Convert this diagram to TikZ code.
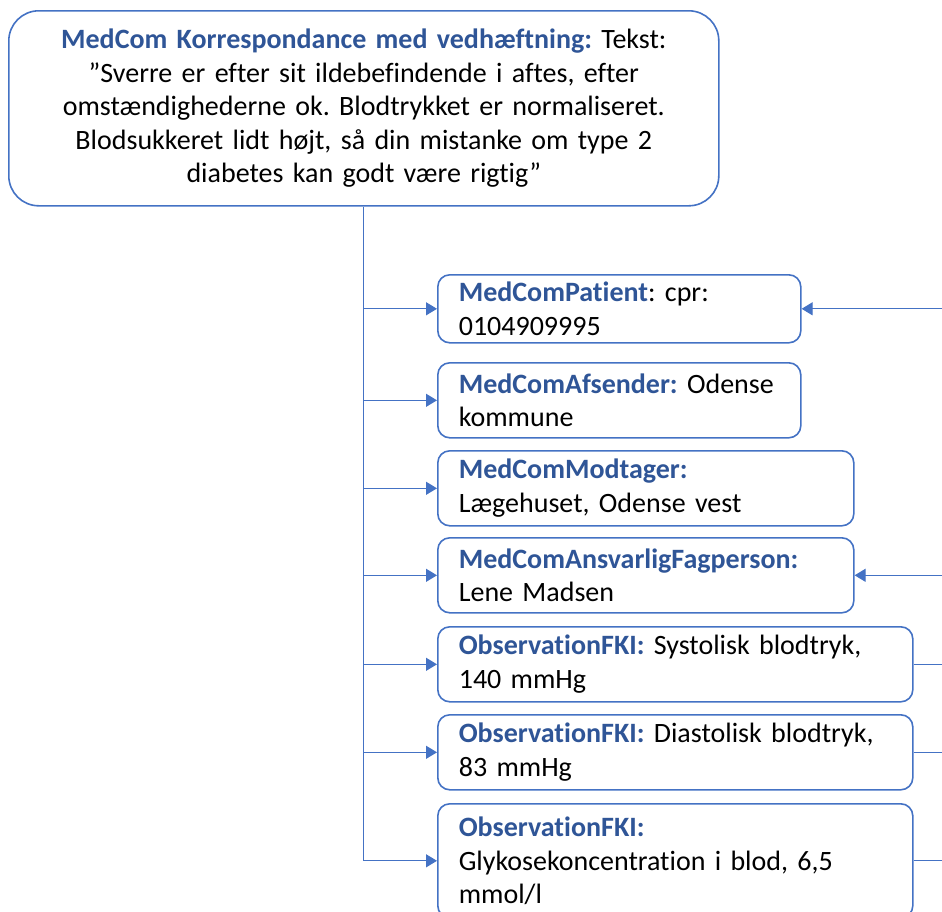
\documentclass[tikz,border=0pt]{standalone}
\usepackage{fontspec}
\setmainfont{Carlito}[Ligatures=NoCommon]
\usetikzlibrary{arrows.meta}
\definecolor{mcblue}{HTML}{4472C4}
\definecolor{mcdark}{HTML}{2F5597}
\newcommand{\rt}[1]{\textbf{\color{mcdark}#1}}
\frenchspacing

\begin{document}
\begin{tikzpicture}[x=1pt,y=-1pt,
  box/.style={draw=mcblue,line width=1.6pt,fill=white,font=\fontsize{28}{33.5}\selectfont},
  leaf/.style={box,rounded corners=12pt,anchor=north west,inner xsep=4pt,inner ysep=0pt,
    align=left,text width=#1-8pt,execute at begin node={\leftskip=17pt}},
  link/.style={mcblue,line width=1.2pt},
  tip/.style={link,-{Triangle[length=11pt,width=13pt]}}]
  \useasboundingbox (0,0) rectangle (942,911);
  \clip (0,0) rectangle (942,911);
  \node[box,rounded corners=30pt,anchor=north west,minimum width=710pt,minimum height=195pt,
    text width=690pt,align=center,inner sep=0pt] (corr) at (8,10)
    {\rt{MedCom Korrespondance med vedhæftning:} Tekst:\\
     ”Sverre er efter sit ildebefindende i aftes, efter\\
     omstændighederne ok. Blodtrykket er normaliseret.\\
     Blodsukkeret lidt højt, så din mistanke om type 2\\
     diabetes kan godt være rigtig”};
  \node[leaf=363pt,minimum height=68pt] (patient) at (437,274) {\rt{MedComPatient}: cpr:\\0104909995};
  \node[leaf=363pt,minimum height=75pt] (afsender) at (437,362) {\rt{MedComAfsender:} Odense\\kommune};
  \node[leaf=416pt,minimum height=75pt] (modtager) at (437,450) {\rt{MedComModtager:}\\Lægehuset, Odense vest};
  \node[leaf=416pt,minimum height=75pt] (fagperson) at (437,537) {\rt{MedComAnsvarligFagperson:}\\Lene Madsen};
  \node[leaf=475pt,minimum height=75pt] (obs1) at (437,626) {\rt{ObservationFKI:} Systolisk blodtryk,\\140 mmHg};
  \node[leaf=475pt,minimum height=75pt] (obs2) at (437,714) {\rt{ObservationFKI:} Diastolisk blodtryk,\\83 mmHg};
  \node[leaf=475pt,minimum height=114pt] (obs3) at (437,803) {\rt{ObservationFKI:}\\Glykosekoncentration i blod, 6,5\\mmol/l};
  \coordinate (rim) at (942,0);
  \draw[link] (corr.south) -- (corr.south |- obs3.west);
  \foreach \n in {patient,afsender,modtager,fagperson,obs1,obs2,obs3}
    \draw[tip] (corr.south |- \n.west) -- (\n.west);
  \foreach \n in {patient,fagperson}
    \draw[tip] (\n.east -| rim) -- (\n.east);
  \foreach \n in {obs1,obs2,obs3}
    \draw[link] (\n.east) -- (\n.east -| rim);
\end{tikzpicture}
\end{document}
